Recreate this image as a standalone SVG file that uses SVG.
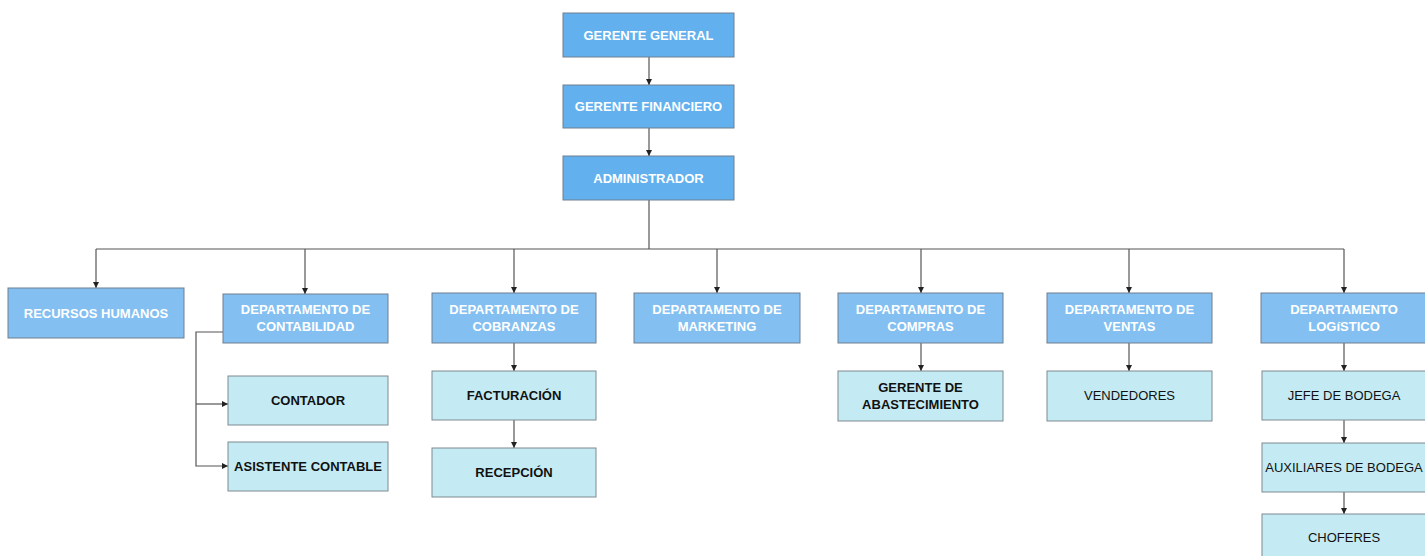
<svg xmlns="http://www.w3.org/2000/svg" width="1425" height="556" viewBox="0 0 1425 556">
<style>
.top{fill:#62b1ee;stroke:#6f7f8f;stroke-width:1}
.dep{fill:#83c0f1;stroke:#6f7f8f;stroke-width:1}
.sub{fill:#c4ebf4;stroke:#7f8a90;stroke-width:1}
text{font-family:"Liberation Sans",Arial,sans-serif;font-size:13px;text-anchor:middle}
.w{fill:#ffffff;font-weight:bold}
.b{fill:#111111;font-weight:bold}
.r{fill:#111111}
.c{fill:none;stroke:#555555;stroke-width:1.2}
</style>
<defs>
<marker id="ah" viewBox="0 0 10 10" refX="10" refY="5" markerWidth="6" markerHeight="6" orient="auto" markerUnits="userSpaceOnUse">
<path d="M0,0 L10,5 L0,10 z" fill="#222222"/>
</marker>
</defs>
<rect width="1425" height="556" fill="#ffffff"/>
<g id="connectors">
<path class="c" d="M649,57 V85" marker-end="url(#ah)"/>
<path class="c" d="M649,128 V156" marker-end="url(#ah)"/>
<path class="c" d="M649,200 V249"/>
<path class="c" d="M96,249 H1344"/>
<path class="c" d="M96,249 V288" marker-end="url(#ah)"/>
<path class="c" d="M305,249 V294" marker-end="url(#ah)"/>
<path class="c" d="M514,249 V293" marker-end="url(#ah)"/>
<path class="c" d="M717,249 V293" marker-end="url(#ah)"/>
<path class="c" d="M921,249 V293" marker-end="url(#ah)"/>
<path class="c" d="M1129,249 V293" marker-end="url(#ah)"/>
<path class="c" d="M1344,249 V293" marker-end="url(#ah)"/>
<path class="c" d="M223,332 H196 V466 H228" marker-end="url(#ah)"/>
<path class="c" d="M196,404 H228" marker-end="url(#ah)"/>
<path class="c" d="M514,343 V371" marker-end="url(#ah)"/>
<path class="c" d="M514,420 V448" marker-end="url(#ah)"/>
<path class="c" d="M921,343 V371" marker-end="url(#ah)"/>
<path class="c" d="M1129,343 V371" marker-end="url(#ah)"/>
<path class="c" d="M1344,343 V371" marker-end="url(#ah)"/>
<path class="c" d="M1344,420 V443" marker-end="url(#ah)"/>
<path class="c" d="M1344,492 V514" marker-end="url(#ah)"/>
</g>
<g id="gerente-general"><rect class="top" x="563" y="13" width="171" height="44"/><text class="w" x="648.5" y="39.5">GERENTE GENERAL</text></g>
<g id="gerente-financiero"><rect class="top" x="563" y="85" width="171" height="43"/><text class="w" x="648.5" y="111">GERENTE FINANCIERO</text></g>
<g id="administrador"><rect class="top" x="563" y="156" width="171" height="44"/><text class="w" x="648.5" y="182.5">ADMINISTRADOR</text></g>
<g id="recursos-humanos"><rect class="dep" x="8" y="288" width="176" height="50"/><text class="w" x="96" y="317.5">RECURSOS HUMANOS</text></g>
<g id="contabilidad"><rect class="dep" x="223" y="294" width="165" height="49"/><text class="w" x="305.5" y="314">DEPARTAMENTO DE</text><text class="w" x="305.5" y="331">CONTABILIDAD</text></g>
<g id="contador"><rect class="sub" x="228" y="376" width="160" height="49"/><text class="b" x="308" y="405">CONTADOR</text></g>
<g id="asistente-contable"><rect class="sub" x="228" y="442" width="160" height="49"/><text class="b" x="308" y="471">ASISTENTE CONTABLE</text></g>
<g id="cobranzas"><rect class="dep" x="432" y="293" width="164" height="50"/><text class="w" x="514" y="313.5">DEPARTAMENTO DE</text><text class="w" x="514" y="330.5">COBRANZAS</text></g>
<g id="facturacion"><rect class="sub" x="432" y="371" width="164" height="49"/><text class="b" x="514" y="400">FACTURACIÓN</text></g>
<g id="recepcion"><rect class="sub" x="432" y="448" width="164" height="49"/><text class="b" x="514" y="477">RECEPCIÓN</text></g>
<g id="marketing"><rect class="dep" x="634" y="293" width="166" height="50"/><text class="w" x="717" y="313.5">DEPARTAMENTO DE</text><text class="w" x="717" y="330.5">MARKETING</text></g>
<g id="compras"><rect class="dep" x="838" y="293" width="165" height="50"/><text class="w" x="920.5" y="313.5">DEPARTAMENTO DE</text><text class="w" x="920.5" y="330.5">COMPRAS</text></g>
<g id="gerente-abastecimiento"><rect class="sub" x="838" y="371" width="165" height="50"/><text class="b" x="920.5" y="391.5">GERENTE DE</text><text class="b" x="920.5" y="408.5">ABASTECIMIENTO</text></g>
<g id="ventas"><rect class="dep" x="1047" y="293" width="165" height="50"/><text class="w" x="1129.5" y="313.5">DEPARTAMENTO DE</text><text class="w" x="1129.5" y="330.5">VENTAS</text></g>
<g id="vendedores"><rect class="sub" x="1047" y="371" width="165" height="50"/><text class="r" x="1129.5" y="400">VENDEDORES</text></g>
<g id="logistico"><rect class="dep" x="1261" y="293" width="166" height="50"/><text class="w" x="1344" y="313.5">DEPARTAMENTO</text><text class="w" x="1344" y="330.5">LOGíSTICO</text></g>
<g id="jefe-bodega"><rect class="sub" x="1262" y="371" width="165" height="49"/><text class="r" x="1344" y="400">JEFE DE BODEGA</text></g>
<g id="auxiliares-bodega"><rect class="sub" x="1262" y="443" width="165" height="49"/><text class="r" x="1344" y="472">AUXILIARES DE BODEGA</text></g>
<g id="choferes"><rect class="sub" x="1262" y="514" width="165" height="50"/><text class="r" x="1344" y="542">CHOFERES</text></g>
</svg>
